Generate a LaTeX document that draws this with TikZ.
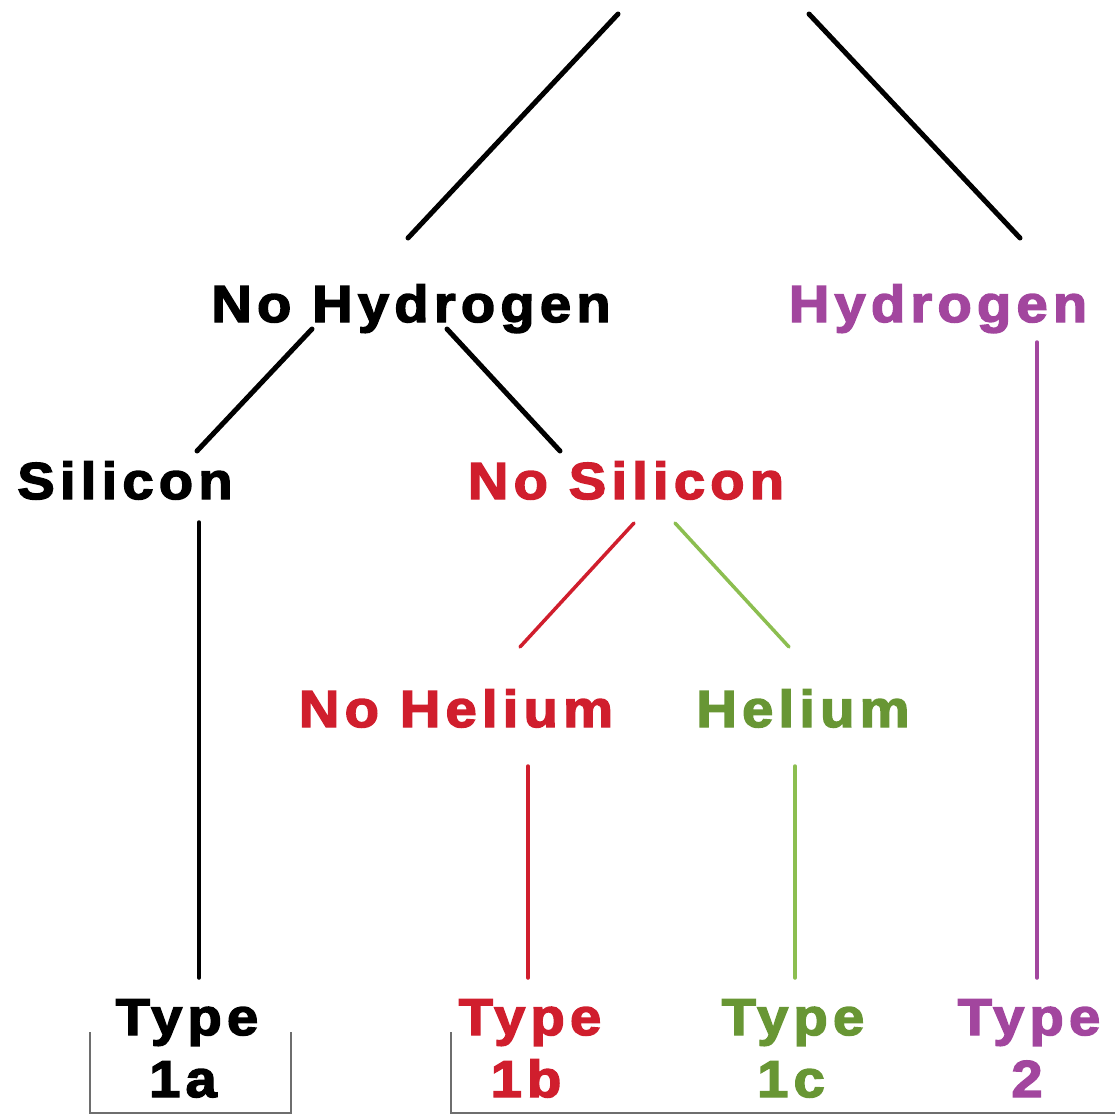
\documentclass[tikz,border=0pt]{standalone}
\usepackage{fontspec}
\setmainfont{Liberation Sans}[LetterSpace=10, FakeStretch=1.08, FakeBold=2.8]
\definecolor{cred}{RGB}{208,30,45}
\definecolor{cgreen}{RGB}{104,150,52}
\definecolor{cgreenline}{RGB}{140,190,80}
\definecolor{cpurple}{RGB}{162,70,158}
\definecolor{cbox}{RGB}{110,110,110}
\tikzset{
  lbl/.style={anchor=base, inner sep=0pt, font=\fontsize{52}{60}\selectfont\bfseries},
  conn/.style={line width=5pt, line cap=round},
  thin/.style={line width=3.5pt, line cap=round},
  boxline/.style={line width=1.6pt, draw=cbox}
}
\begin{document}
\begin{tikzpicture}[x=1pt,y=-1pt]
\useasboundingbox (0,0) rectangle (1114,1116);
% labels
\node[lbl] (nohyd) at (411,322) {No Hydrogen};
\node[lbl, text=cpurple] (hyd) at (938,322) {Hydrogen};
\node[lbl] (sil) at (125,499) {Silicon};
\node[lbl, text=cred] (nosil) at (626,499) {No Silicon};
\node[lbl, text=cred] (nohel) at (456,727) {No Helium};
\node[lbl, text=cgreen] (hel) at (803,727) {Helium};
\node[lbl] (t1a) at (187,1035) {Type};
\node[lbl] (n1a) at (183,1097) {1a};
\node[lbl, text=cred] (t1b) at (530,1035) {Type};
\node[lbl, text=cred] (n1b) at (526,1097) {1b};
\node[lbl, text=cgreen] (t1c) at (793,1035) {Type};
\node[lbl, text=cgreen] (n1c) at (791,1097) {1c};
\node[lbl, text=cpurple] (t2) at (1029,1035) {Type};
\node[lbl, text=cpurple] (n2) at (1027,1097) {2};
% connector end points
\coordinate (rootL) at (618,14);
\coordinate (rootR) at (809,14);
\coordinate (nohydIn) at (408,238);
\coordinate (hydIn) at (1020,238);
\coordinate (nohydL) at (312,329);
\coordinate (nohydR) at (447,329);
\coordinate (silIn) at (197,451);
\coordinate (nosilIn) at (560,451);
\coordinate (silOut) at (199,522);
\coordinate (t1aIn) at (199,978);
\coordinate (hydOut) at (1037,342);
\coordinate (t2In) at (1037,978);
\coordinate (nosilL) at (634,523);
\coordinate (nosilR) at (675,523);
\coordinate (nohelIn) at (520,647);
\coordinate (helIn) at (789,647);
\coordinate (nohelOut) at (528,766);
\coordinate (t1bIn) at (528,978);
\coordinate (helOut) at (795,766);
\coordinate (t1cIn) at (795,978);
% connectors
\draw[conn] (rootL) -- (nohydIn);
\draw[conn] (rootR) -- (hydIn);
\draw[conn] (nohydL) -- (silIn);
\draw[conn] (nohydR) -- (nosilIn);
\draw[thin, draw=black] (silOut) -- (t1aIn);
\draw[thin, draw=cpurple] (hydOut) -- (t2In);
\draw[thin, draw=cred] (nosilL) -- (nohelIn);
\draw[thin, draw=cgreenline] (nosilR) -- (helIn);
\draw[thin, draw=cred] (nohelOut) -- (t1bIn);
\draw[thin, draw=cgreenline] (helOut) -- (t1cIn);
% boxes
\coordinate (b1tl) at (90,1032);
\coordinate (b1tr) at (291,1032);
\coordinate (b2tl) at (451,1032);
\coordinate (b2r) at (1116,1113);
\draw[boxline] (b1tl) |- (b1tr |- 0,1113) -- (b1tr);
\draw[boxline] (b2tl) |- (b2r);
\end{tikzpicture}
\end{document}
